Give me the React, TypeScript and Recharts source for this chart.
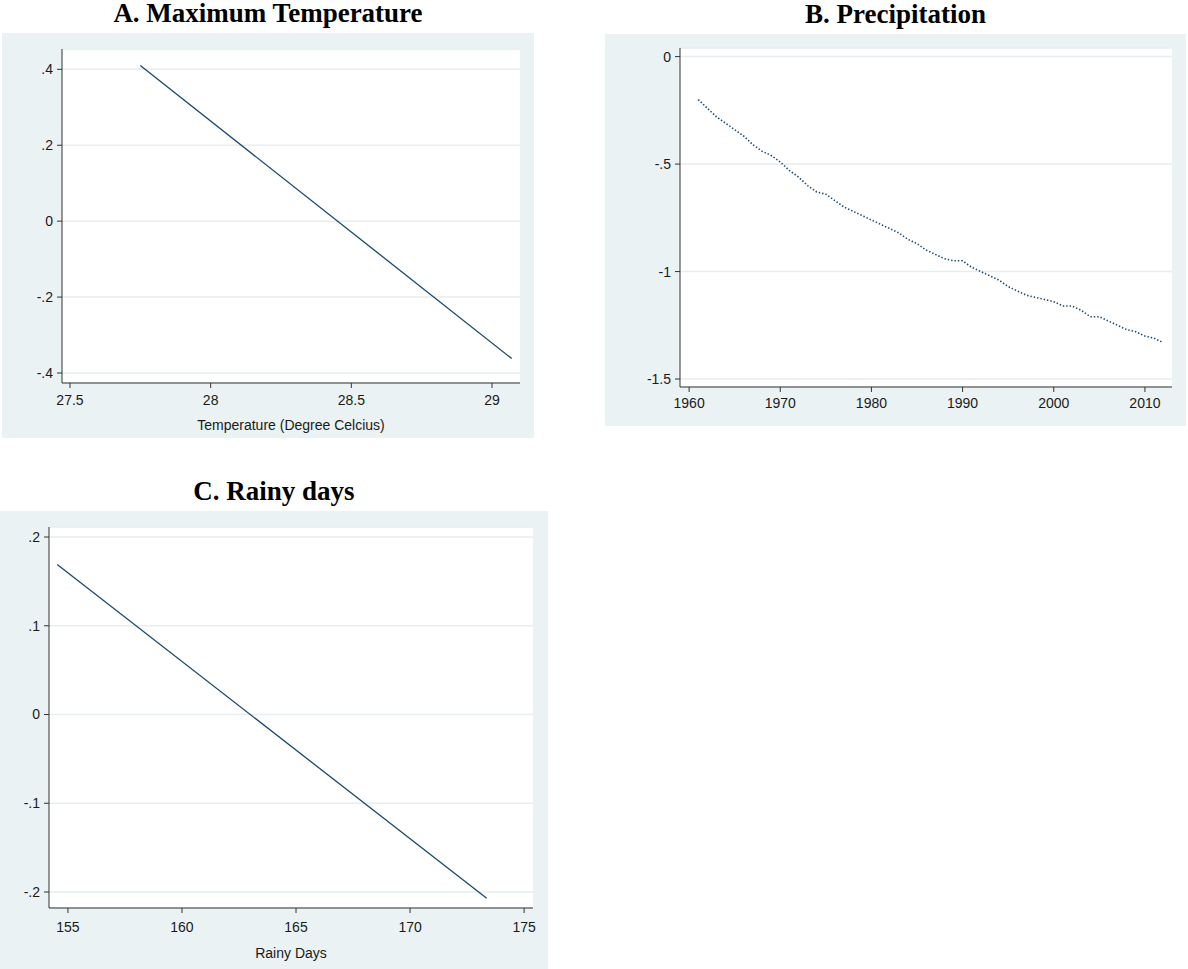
import React from "react";
import { LineChart, Line, XAxis, YAxis, CartesianGrid } from "recharts";

// A. Maximum Temperature
const tempX = [27.75, 29.07];
const tempY = [0.41, -0.362];
const tempTicksX = [27.5, 28, 28.5, 29];
const tempTicksY = [-0.4, -0.2, 0, 0.2, 0.4];

// B. Precipitation
const precipYears = [
  1961, 1962, 1963, 1964, 1965, 1966, 1967, 1968, 1969, 1970, 1971, 1972, 1973,
  1974, 1975, 1976, 1977, 1978, 1979, 1980, 1981, 1982, 1983, 1984, 1985, 1986,
  1987, 1988, 1989, 1990, 1991, 1992, 1993, 1994, 1995, 1996, 1997, 1998, 1999,
  2000, 2001, 2002, 2003, 2004, 2005, 2006, 2007, 2008, 2009, 2010, 2011, 2012,
];
const precipValues = [
  -0.2, -0.24, -0.28, -0.31, -0.34, -0.37, -0.41, -0.44, -0.46, -0.49, -0.53,
  -0.56, -0.6, -0.63, -0.64, -0.67, -0.7, -0.72, -0.74, -0.76, -0.78, -0.8,
  -0.82, -0.85, -0.87, -0.9, -0.92, -0.94, -0.95, -0.95, -0.98, -1.0, -1.02,
  -1.04, -1.07, -1.09, -1.11, -1.12, -1.13, -1.14, -1.16, -1.16, -1.18, -1.21,
  -1.21, -1.23, -1.25, -1.27, -1.28, -1.3, -1.31, -1.33,
];
const precipTicksX = [1960, 1970, 1980, 1990, 2000, 2010];
const precipTicksY = [-1.5, -1, -0.5, 0];

// C. Rainy days
const rainyX = [154.53, 173.36];
const rainyY = [0.169, -0.207];
const rainyTicksX = [155, 160, 165, 170, 175];
const rainyTicksY = [-0.2, -0.1, 0, 0.1, 0.2];

const NAVY = "#1a476f";
const PANEL_BG = "#eaf2f3";
const SANS = "'Liberation Sans', Arial, sans-serif";
const SERIF = "'Liberation Serif', 'Times New Roman', serif";

// stata-ish labels: .4 / -.2 instead of 0.4 / -0.2
const stataFmt = (v: number) => {
  const s = String(Math.round(v * 1000) / 1000);
  return s.replace(/^0\./, ".").replace(/^-0\./, "-.");
};

const zip = (xs: number[], ys: number[]) => xs.map((x, i) => ({ x, y: ys[i] }));

type PanelProps = {
  title: string;
  data: { x: number; y: number }[];
  left: number;
  top: number;
  width: number;
  height: number;
  margin: { top: number; right: number; left: number; bottom: number };
  yWidth: number;
  xHeight: number;
  xTickMargin: number;
  labelOffset?: number;
  xDomain: [number, number];
  yDomain: [number, number];
  xTicks: number[];
  yTicks: number[];
  xLabel?: string;
  dotted?: boolean;
};

function Panel(p: PanelProps) {
  const tick = { fontSize: 14, fill: "#1a1a1a", fontFamily: SANS };
  return (
    <>
      <div
        style={{
          position: "absolute",
          left: p.left,
          top: p.top - 33,
          width: p.width,
          textAlign: "center",
          fontFamily: SERIF,
          fontWeight: "bold",
          fontSize: 27,
          lineHeight: "26px",
          color: "#000",
        }}
      >
        {p.title}
      </div>
      <div
        style={{
          position: "absolute",
          left: p.left,
          top: p.top,
          width: p.width,
          height: p.height,
          background: PANEL_BG,
        }}
      >
        <LineChart width={p.width} height={p.height} data={p.data} margin={p.margin}>
          <CartesianGrid
            vertical={false}
            fill="#ffffff"
            stroke="#e6eef0"
            strokeWidth={1.5}
          />
          <XAxis
            dataKey="x"
            type="number"
            domain={p.xDomain}
            ticks={p.xTicks}
            allowDataOverflow
            height={p.xHeight}
            tick={tick}
            tickFormatter={stataFmt}
            tickSize={5}
            tickMargin={p.xTickMargin}
            stroke="#333"
            label={
              p.xLabel
                ? {
                    value: p.xLabel,
                    position: "insideBottom",
                    offset: p.labelOffset ?? 8,
                    style: { fontSize: 14, fill: "#1a1a1a", fontFamily: SANS },
                  }
                : undefined
            }
          />
          <YAxis
            type="number"
            domain={p.yDomain}
            ticks={p.yTicks}
            allowDataOverflow
            width={p.yWidth}
            tick={tick}
            tickFormatter={stataFmt}
            tickSize={5}
            tickMargin={4}
            stroke="#333"
          />
          <Line
            type="linear"
            dataKey="y"
            stroke={NAVY}
            strokeWidth={p.dotted ? 1.6 : 1.3}
            strokeDasharray={p.dotted ? "1.4 2" : undefined}
            dot={false}
            isAnimationActive={false}
          />
        </LineChart>
      </div>
    </>
  );
}

export default function App() {
  return (
    <div
      style={{
        position: "absolute",
        left: 0,
        top: 0,
        width: 1188,
        height: 969,
        background: "#fff",
      }}
    >
      <Panel
        title="A. Maximum Temperature"
        data={zip(tempX, tempY)}
        left={2}
        top={33}
        width={532}
        height={405}
        margin={{ top: 16, right: 14, left: 0, bottom: 0 }}
        yWidth={60}
        xHeight={55}
        xTickMargin={7}
        labelOffset={8}
        xDomain={[27.4716, 29.0995]}
        yDomain={[-0.4263, 0.4535]}
        xTicks={tempTicksX}
        yTicks={tempTicksY}
        xLabel="Temperature (Degree Celcius)"
      />
      <Panel
        title="B. Precipitation"
        data={zip(precipYears, precipValues)}
        left={605}
        top={34}
        width={581}
        height={392}
        margin={{ top: 14, right: 14, left: 0, bottom: 0 }}
        yWidth={75}
        xHeight={39}
        xTickMargin={6}
        xDomain={[1959.0, 2012.97]}
        yDomain={[-1.537, 0.04]}
        xTicks={precipTicksX}
        yTicks={precipTicksY}
        dotted
      />
      <Panel
        title="C. Rainy days"
        data={zip(rainyX, rainyY)}
        left={0}
        top={511}
        width={548}
        height={458}
        margin={{ top: 16, right: 15, left: 0, bottom: 0 }}
        yWidth={49}
        xHeight={61}
        xTickMargin={9}
        labelOffset={11}
        xDomain={[154.17, 175.39]}
        yDomain={[-0.218, 0.2113]}
        xTicks={rainyTicksX}
        yTicks={rainyTicksY}
        xLabel="Rainy Days"
      />
    </div>
  );
}
